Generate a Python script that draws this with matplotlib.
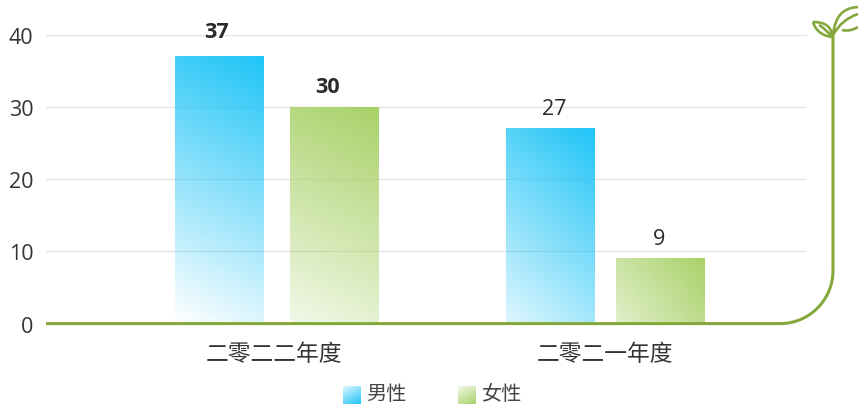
import numpy as np
import matplotlib
matplotlib.use('Agg')
from matplotlib import pyplot as plt
from matplotlib.path import Path
from matplotlib.patches import PathPatch

plt.rcParams['font.family'] = ['Open Sans', 'Noto Sans CJK SC', 'DejaVu Sans']

categories = ['二零二二年度', '二零二一年度']
male = [37, 27]
female = [30, 9]
series_names = ['男性', '女性']
y_ticks = [0, 10, 20, 30, 40]

W, H = 858, 410
BLUE = (0.12, 0.77, 0.97)
GREEN = (0.66, 0.82, 0.41)
LINE = '#84a83c'
TEXT = '#333333'


def gradient(color, fade_x, fade_y, n=128):
    # top right is full colour, fades towards the left and the bottom
    yy, xx = np.mgrid[0:1:n * 1j, 0:1:n * 1j]
    t = np.clip(1 - (1 - xx) * fade_x - (1 - yy) * fade_y, 0, 1)
    img = np.ones((n, n, 4))
    img[..., :3] = color
    img[..., 3] = t
    return img


def fill_bar(axis, patch, color, fades):
    x0, y0 = patch.get_x(), patch.get_y()
    axis.imshow(gradient(color, *fades), origin='lower', aspect='auto', zorder=3,
                extent=(x0, x0 + patch.get_width(), y0, y0 + patch.get_height()))


fig = plt.figure(figsize=(W / 100, H / 100), dpi=100)
ax = fig.add_axes([46 / W, 1 - 324.7 / H, (807 - 46) / W, 289 / H])

x = np.arange(len(categories))
bar_w = 0.268
bars_m = ax.bar(x + np.array([-0.17, -0.17]), male, bar_w, color='none')
bars_f = ax.bar(x + np.array([0.175, 0.162]), female, bar_w, color='none')
for b, fades in zip(bars_m, [(0.15, 0.85), (0.25, 0.6)]):
    fill_bar(ax, b, BLUE, fades)
for b, fades in zip(bars_f, [(0.15, 0.7), (0.4, 0.25)]):
    fill_bar(ax, b, GREEN, fades)

ax.set_xlim((46 - 276) / 331, (807 - 276) / 331)
ax.set_ylim(0, 40)
ax.set_yticks(y_ticks)
ax.set_xticks(x - 0.005)
ax.set_xticklabels(categories, fontsize=16.4, color=TEXT)
ax.tick_params(axis='both', length=0, labelcolor=TEXT)
ax.tick_params(axis='y', labelsize=15.5, pad=9)
ax.tick_params(axis='x', pad=13.5)
ax.grid(axis='y', color='#e4e4e4', lw=1)
ax.set_axisbelow(True)
for s in ax.spines.values():
    s.set_visible(False)

# value labels, the first category is bold, offsets in px from top of bar
label_off = [[(-3, 14), (-6, 10)], [(4, 10), (-2, 10)]]
for row, (bars, vals) in enumerate(((bars_m, male), (bars_f, female))):
    for i, (b, v) in enumerate(zip(bars, vals)):
        dx, dy = label_off[i][row]
        ax.annotate(str(v), (b.get_x() + b.get_width() / 2, v), xytext=(dx * 0.72, dy * 0.72),
                    textcoords='offset points', ha='center', va='bottom', color='#2a2a2a',
                    fontsize=15.5, fontweight='bold' if i == 0 else 'normal',
                    clip_on=False)

# overlay in pixel coordinates for the sprout line and legend
ov = fig.add_axes([0, 0, 1, 1], facecolor='none')
ov.set_xlim(0, W)
ov.set_ylim(H, 0)
ov.axis('off')

K = 0.5523
R = 53
base = 324.6
stem = Path(
    [(46, base), (833 - R, base),
     (833 - R + K * R, base), (833, base - R + K * R), (833, base - R),
     (833, 33)],
    [Path.MOVETO, Path.LINETO, Path.CURVE4, Path.CURVE4, Path.CURVE4, Path.LINETO])
ov.add_patch(PathPatch(stem, fc='none', ec=LINE, lw=2.2, capstyle='butt'))

small_leaf = Path(
    [(813, 23), (823, 23), (832, 26), (832, 38), (824, 37), (816, 33), (813, 23),
     (819, 26), (826, 30), (832, 38)],
    [Path.MOVETO, Path.CURVE4, Path.CURVE4, Path.CURVE4, Path.CURVE4, Path.CURVE4, Path.CURVE4,
     Path.MOVETO, Path.CURVE3, Path.CURVE3])
big_leaf = Path(
    [(833, 36), (835, 18), (842, 9), (858, 8),
     (842, 31), (850, 33), (858, 28),
     (833, 36), (842, 20), (858, 15)],
    [Path.MOVETO, Path.CURVE4, Path.CURVE4, Path.CURVE4,
     Path.MOVETO, Path.CURVE3, Path.CURVE3,
     Path.MOVETO, Path.CURVE3, Path.CURVE3])
for leaf in (small_leaf, big_leaf):
    ov.add_patch(PathPatch(leaf, fc='none', ec=LINE, lw=1.9))

# legend, swatches fade the other way
for px, name, col in ((343, series_names[0], BLUE), (458, series_names[1], GREEN)):
    ov.imshow(np.flipud(gradient(col, 0.3, 0.55)), origin='lower', aspect='auto',
              extent=(px, px + 18, 405, 387))
    ov.text(px + 23.5, 395, name, fontsize=14.5, color='#444444', va='center', ha='left')
ov.set_xlim(0, W)
ov.set_ylim(H, 0)

plt.savefig('out.png', dpi=100)
